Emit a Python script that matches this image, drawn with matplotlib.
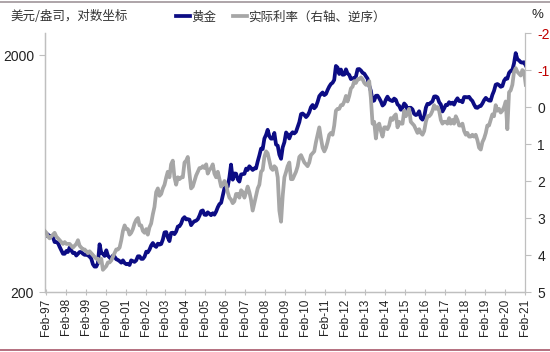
import matplotlib
matplotlib.use("Agg")
import matplotlib.pyplot as plt
from matplotlib.lines import Line2D
from matplotlib.ticker import FixedLocator, NullLocator
import pandas as pd

# ---- data (monthly) ----
gold = [
    350, 345, 350, 340, 345, 340, 325, 325, 322, 310, 300, 290,   # 1997
    290, 298, 295, 308, 300, 292, 293, 285, 290, 295, 295, 290,   # 1998
    287, 287, 286, 282, 277, 262, 256, 256, 265, 318, 293, 290,   # 1999
    284, 300, 285, 280, 275, 285, 282, 275, 273, 270, 266, 272,   # 2000
    265, 262, 263, 260, 272, 270, 268, 272, 283, 283, 276, 276,   # 2001
    282, 296, 294, 302, 314, 322, 314, 310, 320, 317, 319, 333,   # 2002
    357, 358, 340, 328, 355, 356, 351, 360, 378, 379, 389, 407,   # 2003
    414, 405, 406, 404, 383, 392, 398, 400, 406, 420, 439, 442,   # 2004
    424, 423, 434, 428, 422, 430, 424, 437, 456, 470, 476, 510,   # 2005
    549, 555, 557, 610, 690, 596, 633, 632, 598, 585, 627, 629,   # 2006
    631, 664, 655, 679, 667, 655, 665, 665, 712, 754, 806, 803,   # 2007
    889, 922, 968, 909, 888, 889, 939, 839, 829, 760, 730, 816,   # 2008
    858, 943, 924, 890, 928, 945, 934, 949, 996, 1043, 1127, 1134,  # 2009
    1118, 1095, 1113, 1148, 1205, 1232, 1193, 1215, 1271, 1342, 1370, 1391,  # 2010
    1356, 1372, 1424, 1473, 1510, 1529, 1572, 1800, 1772, 1665, 1739, 1652,  # 2011
    1656, 1742, 1673, 1650, 1585, 1596, 1594, 1626, 1744, 1747, 1722, 1684,  # 2012
    1671, 1627, 1593, 1487, 1414, 1280, 1286, 1347, 1349, 1316, 1275, 1225,  # 2013
    1244, 1300, 1336, 1299, 1288, 1279, 1311, 1296, 1239, 1222, 1176, 1200,  # 2014
    1250, 1227, 1179, 1198, 1199, 1181, 1131, 1117, 1125, 1159, 1086, 1068,  # 2015
    1097, 1200, 1246, 1242, 1260, 1276, 1337, 1340, 1326, 1266, 1238, 1157,  # 2016
    1192, 1234, 1231, 1266, 1246, 1260, 1236, 1283, 1315, 1280, 1283, 1265,  # 2017
    1331, 1331, 1325, 1334, 1303, 1281, 1238, 1202, 1198, 1215, 1220, 1250,  # 2018
    1291, 1320, 1300, 1286, 1284, 1359, 1413, 1500, 1510, 1495, 1470, 1480,  # 2019
    1560, 1597, 1591, 1683, 1715, 1732, 1847, 2040, 1921, 1900, 1866, 1858,  # 2020
    1867, 1808,                                                   # 2021
]

real_rate = [
    3.35, 3.40, 3.50, 3.55, 3.50, 3.45, 3.40, 3.50, 3.55, 3.60, 3.65, 3.70,  # 1997
    3.65, 3.70, 3.70, 3.70, 3.75, 3.80, 3.75, 3.70, 3.60, 3.75, 3.80, 3.85,  # 1998
    3.85, 3.90, 3.95, 3.90, 3.95, 4.00, 4.05, 4.10, 4.10, 4.20, 4.10, 4.40,  # 1999
    4.35, 4.30, 4.20, 4.20, 4.15, 4.05, 3.95, 3.85, 3.85, 3.80, 3.60, 3.35,  # 2000
    3.20, 3.30, 3.30, 3.45, 3.40, 3.30, 3.15, 3.05, 3.00, 3.20, 3.20, 3.35,  # 2001
    3.40, 3.30, 3.45, 3.25, 3.15, 2.90, 2.70, 2.30, 2.20, 2.40, 2.35, 2.20,  # 2002
    2.10, 1.90, 1.75, 1.90, 1.55, 1.45, 1.90, 2.10, 1.90, 1.95, 1.90, 1.90,  # 2003
    1.50, 1.45, 1.35, 1.80, 2.20, 2.15, 2.00, 1.85, 1.75, 1.65, 1.65, 1.60,  # 2004
    1.65, 1.55, 1.80, 1.70, 1.65, 1.55, 1.80, 1.90, 1.75, 1.95, 2.15, 2.10,  # 2005
    2.00, 2.10, 2.30, 2.45, 2.50, 2.60, 2.55, 2.35, 2.35, 2.45, 2.25, 2.30,  # 2006
    2.45, 2.30, 2.15, 2.30, 2.50, 2.80, 2.60, 2.40, 2.20, 2.10, 1.75, 1.70,  # 2007
    1.35, 1.20, 1.25, 1.45, 1.65, 1.70, 1.60, 1.65, 1.90, 2.80, 3.10, 2.40,  # 2008
    1.90, 1.75, 1.60, 1.50, 1.95, 1.95, 1.85, 1.75, 1.60, 1.35, 1.30, 1.40,  # 2009
    1.50, 1.55, 1.60, 1.50, 1.30, 1.25, 1.20, 0.95, 0.75, 0.55, 0.85, 1.10,  # 2010
    1.20, 1.10, 0.95, 0.75, 0.70, 0.75, 0.50, 0.10, 0.05, 0.05, -0.05, -0.05,  # 2011
    -0.15, -0.30, -0.15, -0.30, -0.50, -0.55, -0.70, -0.65, -0.75, -0.75, -0.80, -0.75,  # 2012
    -0.65, -0.60, -0.60, -0.70, -0.25, 0.45, 0.40, 0.85, 0.50, 0.45, 0.65, 0.80,  # 2013
    0.55, 0.55, 0.60, 0.50, 0.30, 0.35, 0.25, 0.20, 0.55, 0.40, 0.45, 0.45,  # 2014
    0.10, 0.25, 0.15, 0.05, 0.40, 0.45, 0.50, 0.60, 0.70, 0.60, 0.70, 0.75,  # 2015
    0.65, 0.40, 0.25, 0.25, 0.20, 0.10, -0.05, 0.05, 0.00, 0.10, 0.35, 0.45,  # 2016
    0.40, 0.40, 0.45, 0.30, 0.45, 0.35, 0.45, 0.25, 0.35, 0.50, 0.50, 0.45,  # 2017
    0.65, 0.75, 0.70, 0.80, 0.80, 0.75, 0.80, 0.75, 0.90, 1.10, 1.15, 0.95,  # 2018
    0.85, 0.70, 0.50, 0.50, 0.35, 0.20, 0.25, -0.05, 0.10, 0.05, 0.15, 0.10,  # 2019
    0.00, -0.15, 0.60, -0.40, -0.45, -0.60, -0.95, -1.05, -0.95, -0.90, -0.85, -1.00,  # 2020
    -0.95, -0.60,                                                              # 2021
]

dates = pd.date_range("1997-01-01", periods=len(gold), freq="MS") + pd.Timedelta(days=14)

left_ticks = [200, 2000]
left_ticklabels = ["200", "2000"]
right_ticks = [-2, -1, 0, 1, 2, 3, 4, 5]
x_tick_years = list(range(1997, 2022))

title_text = "美元/盎司，对数坐标"
label_gold = "黄金"
label_rate = "实际利率（右轴、逆序）"

# ---- figure ----
plt.rcParams['font.family'] = ['Liberation Sans', 'Noto Sans CJK SC', 'DejaVu Sans']
cjk = ['Noto Sans CJK SC', 'DejaVu Sans']

fig = plt.figure(figsize=(5.5, 3.52), dpi=100)
ax = fig.add_axes([45/550, 1-292/352, 480/550, 259/352])
ax2 = ax.twinx()

navy = '#0c0c84'
grey = '#a6a6a6'
spine_c = '#bfbfbf'

ax.plot(dates, gold, color=navy, lw=2.7, solid_joinstyle='round', zorder=2)
ax2.plot(dates, real_rate, color=grey, lw=2.7, solid_joinstyle='round', zorder=3)

ax.set_yscale('log')
ax.set_ylim(200, 2480)
ax.yaxis.set_major_locator(FixedLocator(left_ticks))
ax.yaxis.set_minor_locator(NullLocator())
ax.set_yticklabels(left_ticklabels)

ax2.set_ylim(5, -2)
ax2.set_yticks(right_ticks)
ax2.set_yticklabels([str(v) for v in right_ticks])
for t, v in zip(ax2.get_yticklabels(), right_ticks):
    t.set_color('#c00000' if v < 0 else '#222222')

ax.set_xlim(pd.Timestamp("1997-01-20"), pd.Timestamp("2021-02-01"))
xt = [pd.Timestamp(f"{y}-02-01") for y in x_tick_years]
ax.set_xticks(xt)
ax.set_xticklabels([d.strftime("%b-%y") for d in xt], rotation=90, fontsize=8.5, color='#222222')

for a in (ax, ax2):
    for s in a.spines.values():
        s.set_color(spine_c)
        s.set_linewidth(0.9)
    a.spines['top'].set_visible(False)
ax.spines['right'].set_visible(False)

ax.tick_params(axis='y', which='major', length=4, color=spine_c, labelsize=10, labelcolor='#222222', pad=4)
ax.tick_params(axis='x', length=5, direction='inout', color=spine_c, pad=2)
ax2.tick_params(axis='y', length=4, color=spine_c, labelsize=10, pad=5)

# title / legend / unit
fig.text(10/550, 1-17/352, title_text, fontsize=9, family=cjk, color='#333333', va='center', ha='left')
fig.text(537/550, 1-15/352, "%", fontsize=9.5, color='#222222', va='center', ha='center')

handles = [Line2D([], [], color=navy, lw=2.7), Line2D([], [], color=grey, lw=2.7)]
leg = fig.legend(handles, [label_gold, label_rate], loc='center left',
                 bbox_to_anchor=(176/550, 1-17/352), ncol=2, frameon=False,
                 prop={'family': cjk, 'size': 9}, handlelength=1.1, handletextpad=0.15,
                 columnspacing=1.3, borderaxespad=0, borderpad=0)
for t in leg.get_texts():
    t.set_color('#333333')

# outer frame lines
fig.add_artist(Line2D([0, 1], [1-1.5/352, 1-1.5/352], color='#a0959a', lw=1.2, transform=fig.transFigure))
fig.add_artist(Line2D([0, 1], [1-349.5/352, 1-349.5/352], color='#a8586a', lw=1.2, transform=fig.transFigure))

fig.savefig("out.png", dpi=100)
